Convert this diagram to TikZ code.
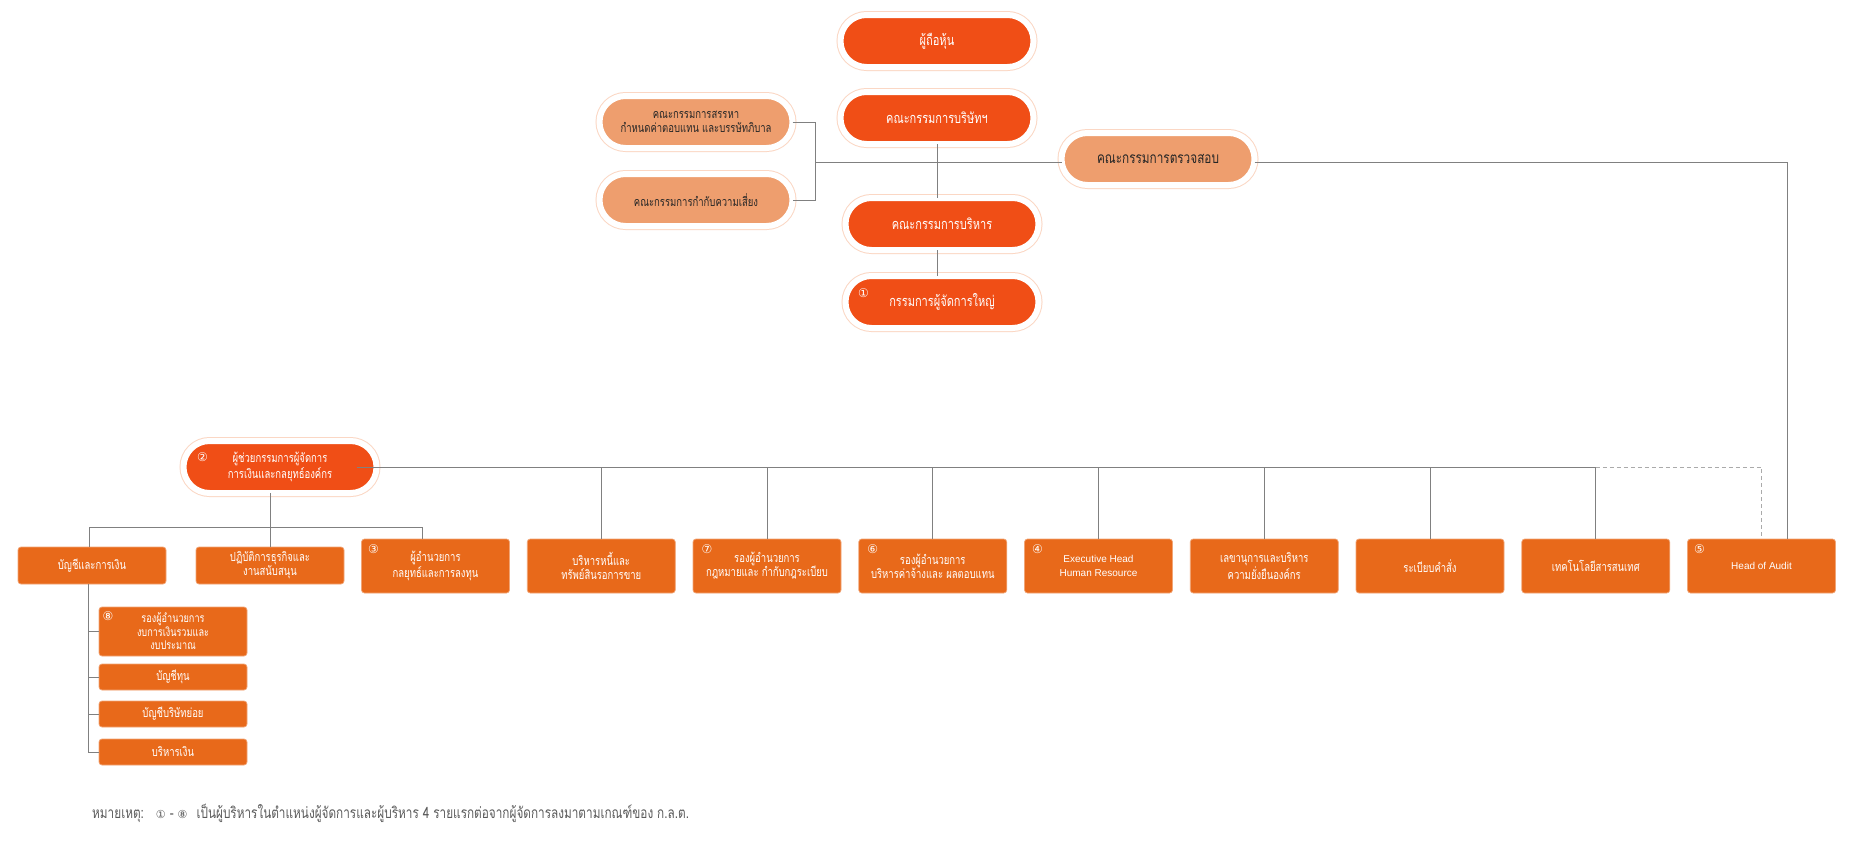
\documentclass[tikz,border=0pt]{standalone}
\usepackage{fontspec}
\setmainfont{Liberation Sans}
\newfontfamily\thaifont[Script=Thai,FakeStretch=0.76]{Loma}
\newfontfamily\numfont{DejaVu Sans}
\definecolor{pillred}{RGB}{240,78,22}
\definecolor{pilllight}{RGB}{238,158,110}
\definecolor{boxorange}{RGB}{232,105,26}
\definecolor{ringpeach}{RGB}{251,215,196}
\definecolor{linegray}{RGB}{128,128,128}
\definecolor{dashgray}{RGB}{170,170,170}
\definecolor{notegray}{RGB}{90,90,90}

\begin{document}
\begin{tikzpicture}
    [
      x=1pt, y=-1pt,
      pill/.style={rectangle, rounded corners=26pt, minimum height=52pt, minimum width=193pt,
        inner sep=0pt, outer sep=0pt, align=center,
        preaction={draw=ringpeach, line width=8pt}, draw=white, line width=6pt},
      darkpill/.style={pill, fill=pillred, text=white, font=\thaifont\fontsize{14.5}{16}\selectfont},
      lightpill/.style={pill, fill=pilllight, text=black!85, font=\thaifont\fontsize{12.5}{14}\selectfont},
      unit/.style={rectangle, rounded corners=3pt, fill=boxorange, draw=boxorange!60!white,
        line width=0.7pt, text=white, minimum width=148pt, minimum height=54pt,
        inner sep=0pt, outer sep=0pt, align=center, font=\thaifont\fontsize{12.5}{14}\selectfont},
      latin/.style={font=\normalfont\fontsize{10}{13.5}\selectfont},
      numtag/.style={text=white, inner sep=0pt, font=\numfont\fontsize{12}{12}\selectfont},
      link/.style={draw=linegray, line width=1pt},
      dotlink/.style={draw=dashgray, line width=1pt, dash pattern=on 4pt off 3pt},
    ]

    \fill [white] (0,0) rectangle (1854,849);
    \useasboundingbox (0,0) rectangle (1854,849);

    % committees
    \node (holders) [darkpill] at (937,41) {ผู้ถือหุ้น};
    \node (board) [darkpill] at (937,118) {คณะกรรมการบริษัทฯ};
    \node (nomin) [lightpill] at (696,122) {คณะกรรมการสรรหา\\กำหนดค่าตอบแทน และบรรษัทภิบาล};
    \node (risk) [lightpill] at (696,200) {คณะกรรมการกำกับความเสี่ยง};
    \node (audit) [lightpill, font=\thaifont\fontsize{15.5}{17}\selectfont] at (1158,159) {คณะกรรมการตรวจสอบ};
    \node (exec) [darkpill] at (942,224) {คณะกรรมการบริหาร};
    \node (ceo) [darkpill] at (942,302) {กรรมการผู้จัดการใหญ่};
    \node (vp2) [darkpill, font=\thaifont\fontsize{12.5}{14}\selectfont] at (280,467)
      {ผู้ช่วยกรรมการผู้จัดการ\\การเงินและกลยุทธ์องค์กร};

    % departments
    \node (strat) [unit] at (435.5,566) {ผู้อำนวยการ\\กลยุทธ์และการลงทุน};
    \node (debt) [unit] at (601.25,566) {บริหารหนี้และ\\ทรัพย์สินรอการขาย};
    \node (legal) [unit] at (767,566) {รองผู้อำนวยการ\\กฎหมายและ กำกับกฎระเบียบ};
    \node (comp) [unit] at (932.75,566) {รองผู้อำนวยการ\\บริหารค่าจ้างและ ผลตอบแทน};
    \node (hr) [unit, latin] at (1098.5,566) {Executive Head\\Human Resource};
    \node (secr) [unit] at (1264.25,566) {เลขานุการและบริหาร\\ความยั่งยืนองค์กร};
    \node (regs) [unit] at (1430,566) {ระเบียบคำสั่ง};
    \node (tech) [unit] at (1595.75,566) {เทคโนโลยีสารสนเทศ};
    \node (hoa) [unit, latin] at (1761.5,566) {Head of Audit};

    \node (acct) [unit, minimum height=37pt] at (92,565.5) {บัญชีและการเงิน};
    \node (ops) [unit, minimum height=37pt] at (270,565.5) {ปฏิบัติการธุรกิจและ\\งานสนับสนุน};
    \node (budget) [unit, minimum height=49pt, font=\thaifont\fontsize{12}{13.5}\selectfont] at (173,631.5)
      {รองผู้อำนวยการ\\งบการเงินรวมและ\\งบประมาณ};
    \node (capital) [unit, minimum height=26pt] at (173,677) {บัญชีทุน};
    \node (subsid) [unit, minimum height=26pt] at (173,714) {บัญชีบริษัทย่อย};
    \node (treas) [unit, minimum height=26pt] at (173,752) {บริหารเงิน};

    % circled numbers
    \node (tag-1) [numtag] at ([xshift=18pt,yshift=-17pt]ceo.north west) {①};
    \node (tag-2) [numtag] at ([xshift=19pt,yshift=-16pt]vp2.north west) {②};
    \node (tag-3) [numtag] at ([xshift=12pt,yshift=-10pt]strat.north west) {③};
    \node (tag-4) [numtag] at ([xshift=13pt,yshift=-10pt]hr.north west) {④};
    \node (tag-5) [numtag] at ([xshift=12pt,yshift=-10pt]hoa.north west) {⑤};
    \node (tag-6) [numtag] at ([xshift=14pt,yshift=-10pt]comp.north west) {⑥};
    \node (tag-7) [numtag] at ([xshift=14pt,yshift=-10pt]legal.north west) {⑦};
    \node (tag-8) [numtag] at ([xshift=9pt,yshift=-9pt]budget.north west) {⑧};

    % connectors
    \draw [link] (board.south) -- (board.south |- exec.north);
    \draw [link] (board.south |- exec.south) -- (board.south |- ceo.north);
    \draw [link] (nomin.east) -- ++(23,0) |- (risk.east);
    \coordinate (board-bar) at (816,162);
    \draw [link] (board-bar) -- (audit.west |- board-bar);
    \draw [link] (audit.east |- board-bar) -| ([xshift=26pt]hoa.north);

    \draw [link] ([xshift=-20pt]vp2.east) -- (tech.north |- vp2.east);
    \foreach \u in {debt,legal,comp,hr,secr,regs,tech}
      \draw [link] (\u.north) -- (\u.north |- vp2.east);
    \draw [dotlink] (tech.north |- vp2.east) -| (hoa.north);

    \draw [link] (ops.north |- vp2.south) -- (ops.north);
    \draw [link] ([xshift=-3pt]acct.north) -- ++(0,-20) -| ([xshift=-13pt]strat.north);
    \draw [link] ([xshift=-4pt]acct.south) |- (treas.west);
    \foreach \s in {budget,capital,subsid}
      \draw [link] ([xshift=-4pt]acct.south |- \s.west) -- (\s.west);

    % footnote
    \node (note) [anchor=west, inner sep=0pt, text=notegray, font=\thaifont\fontsize{15.5}{17}\selectfont] at (92,813)
      {หมายเหตุ:\hspace{12pt}{\numfont\fontsize{11}{11}\selectfont ①} - {\numfont\fontsize{11}{11}\selectfont ⑧}\hspace{9pt}เป็นผู้บริหารในตำแหน่งผู้จัดการและผู้บริหาร 4 รายแรกต่อจากผู้จัดการลงมาตามเกณฑ์ของ ก.ล.ต.};

  \end{tikzpicture}
\end{document}
